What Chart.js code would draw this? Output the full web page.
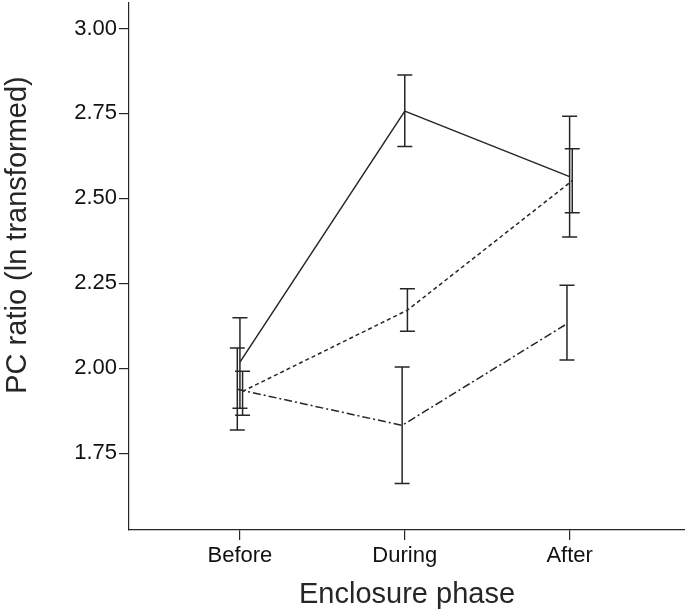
<!DOCTYPE html>
<html>
<head>
<meta charset="utf-8">
<script src="https://cdn.jsdelivr.net/npm/chart.js@4.4.1/dist/chart.umd.min.js"></script>
<style>
  html, body { margin: 0; padding: 0; background: #fff; }
  #wrap { width: 685px; height: 615px; }
</style>
</head>
<body>
<div id="wrap"><canvas id="pc-chart" width="685" height="615"></canvas></div>
<script>
// --- DATA ---
const phases = ['Before', 'During', 'After'];
const yTicks = [1.75, 2.00, 2.25, 2.50, 2.75, 3.00];

const solidMean  = [2.018, 2.757, 2.564];
const solidHigh  = [2.149, 2.863, 2.742];
const solidLow   = [1.882, 2.653, 2.386];

const dashMean   = [1.932, 2.171, 2.552];
const dashHigh   = [1.991, 2.234, 2.646];
const dashLow    = [1.862, 2.109, 2.458];

const dotDashMean = [1.938, 1.832, 2.131];
const dotDashHigh = [2.060, 2.004, 2.244];
const dotDashLow  = [1.818, 1.661, 2.024];

const inkColor = '#262626';
const fontFamily = '"Liberation Sans", Arial, sans-serif';

// small horizontal dodge so the error bars don't sit on top of each other
function toPoints(means, offset) {
    return means.map((v, i) => ({ x: i + 1 + offset, y: v }));
}

const seriesList = [
    { mean: solidMean, high: solidHigh, low: solidLow, dash: [], offset: 0 },
    { mean: dashMean, high: dashHigh, low: dashLow, dash: [4, 3], offset: 0.016 },
    { mean: dotDashMean, high: dotDashHigh, low: dotDashLow, dash: [8, 3, 2, 3], offset: -0.016 }
];

// --- PLUGINS ---
const errorBarPlugin = {
    id: 'errorBars',
    afterDatasetsDraw(chart) {
        const ctx = chart.ctx;
        const xScale = chart.scales.x;
        const yScale = chart.scales.y;
        const capHalf = 7.5;
        ctx.save();
        ctx.strokeStyle = inkColor;
        ctx.lineWidth = 1.5;
        ctx.setLineDash([]);
        seriesList.forEach(s => {
            s.mean.forEach((m, i) => {
                const px = xScale.getPixelForValue(i + 1 + s.offset);
                const top = yScale.getPixelForValue(s.high[i]);
                const bot = yScale.getPixelForValue(s.low[i]);
                ctx.beginPath();
                ctx.moveTo(px, top);
                ctx.lineTo(px, bot);
                ctx.moveTo(px - capHalf, top);
                ctx.lineTo(px + capHalf, top);
                ctx.moveTo(px - capHalf, bot);
                ctx.lineTo(px + capHalf, bot);
                ctx.stroke();
            });
        });
        ctx.restore();
    }
};

const yTitlePlugin = {
    id: 'yTitle',
    afterDraw(chart) {
        const ctx = chart.ctx;
        ctx.save();
        ctx.translate(18, 235);
        ctx.rotate(-Math.PI / 2);
        ctx.fillStyle = inkColor;
        ctx.font = '29px ' + fontFamily;
        ctx.textAlign = 'center';
        ctx.textBaseline = 'middle';
        ctx.fillText('PC ratio (ln transformed)', 0, 0);
        ctx.restore();
    }
};

// --- CHART ---
const ctx = document.getElementById('pc-chart').getContext('2d');
new Chart(ctx, {
    type: 'line',
    data: {
        datasets: seriesList.map(s => ({
            data: toPoints(s.mean, s.offset),
            borderColor: inkColor,
            borderWidth: 1.5,
            borderDash: s.dash,
            pointRadius: 0,
            fill: false,
            tension: 0
        }))
    },
    options: {
        responsive: false,
        animation: false,
        layout: { padding: { top: 3, right: 0, left: 0, bottom: 0 } },
        plugins: { legend: { display: false }, tooltip: { enabled: false } },
        scales: {
            x: {
                type: 'linear',
                min: 0.327,
                max: 3.7,
                afterBuildTicks: scale => { scale.ticks = phases.map((p, i) => ({ value: i + 1 })); },
                afterFit: scale => { scale.height = 85; scale.paddingLeft = 0; scale.paddingRight = 0; },
                border: { display: true, color: inkColor, width: 1.2 },
                grid: { display: true, drawOnChartArea: false, drawTicks: true, tickLength: 10, color: inkColor, lineWidth: 1.2 },
                ticks: {
                    color: '#111',
                    font: { family: fontFamily, size: 22 },
                    padding: 3,
                    maxRotation: 0,
                    callback: v => phases[Math.round(v) - 1]
                },
                title: {
                    display: true,
                    text: 'Enclosure phase',
                    color: inkColor,
                    font: { family: fontFamily, size: 29 },
                    padding: { top: 4, bottom: 3 }
                }
            },
            y: {
                min: 1.524,
                max: 3.075,
                afterBuildTicks: scale => { scale.ticks = yTicks.map(v => ({ value: v })); },
                afterFit: scale => { scale.width = 129; scale.paddingTop = 0; scale.paddingBottom = 0; },
                border: { display: true, color: inkColor, width: 1.2 },
                grid: { display: true, drawOnChartArea: false, drawTicks: true, tickLength: 10, color: inkColor, lineWidth: 1.2 },
                ticks: {
                    color: '#111',
                    font: { family: fontFamily, size: 22 },
                    padding: 2,
                    callback: v => v.toFixed(2)
                }
            }
        }
    },
    plugins: [errorBarPlugin, yTitlePlugin]
});
</script>
</body>
</html>
